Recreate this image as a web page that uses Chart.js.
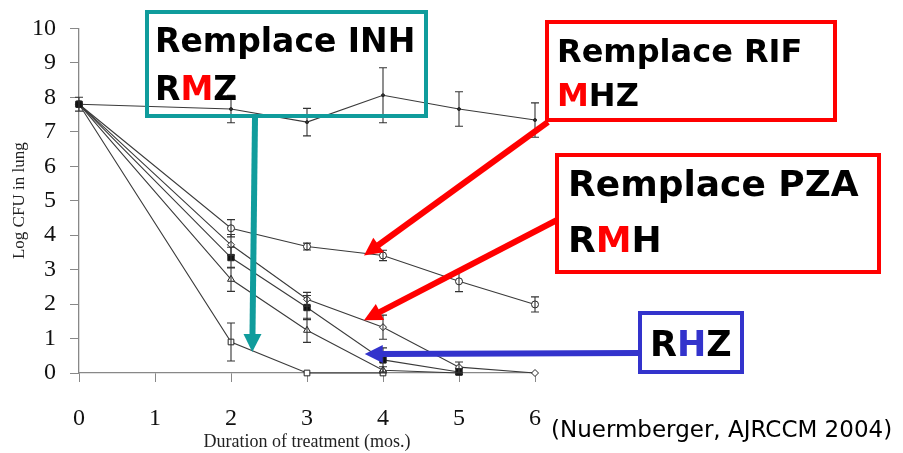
<!DOCTYPE html>
<html>
<head>
<meta charset="utf-8">
<script src="https://cdn.jsdelivr.net/npm/chart.js@4/dist/chart.umd.min.js"></script>
<style>
  body { margin: 0; background: #fff; }
  #wrap { position: relative; width: 903px; height: 453px; overflow: hidden; }
  canvas { position: absolute; left: 0; top: 0; }
  .box { position: absolute; box-sizing: border-box; border: 4px solid; pointer-events: none; }
  .lbl { position: absolute; font-family: 'DejaVu Sans', sans-serif; font-weight: bold;
         line-height: 1; white-space: nowrap; color: #000; }
  .red { color: #ff0000; }
  .blue { color: #3333cc; }
  #cite { position: absolute; left: 551px; top: 418px; font-family: 'DejaVu Sans', sans-serif;
          font-size: 23px; line-height: 1; white-space: nowrap; color: #000; }
</style>
</head>
<body>
<div id="wrap">
  <canvas id="myChart" width="903" height="453"></canvas>

  <div class="box" style="left:145px;top:10px;width:283px;height:108px;border-color:#109c9c;"></div>
  <div class="lbl" style="left:155px;top:24px;font-size:33px;">Remplace INH</div>
  <div class="lbl" style="left:155px;top:72px;font-size:33px;">R<span class="red">M</span>Z</div>

  <div class="box" style="left:545px;top:20px;width:292px;height:102px;border-color:#ff0000;"></div>
  <div class="lbl" style="left:557px;top:35px;font-size:32px;">Remplace RIF</div>
  <div class="lbl" style="left:557px;top:79px;font-size:32px;"><span class="red">M</span>HZ</div>

  <div class="box" style="left:555px;top:153px;width:326px;height:121px;border-color:#ff0000;"></div>
  <div class="lbl" style="left:568px;top:166px;font-size:36px;">Remplace PZA</div>
  <div class="lbl" style="left:568px;top:222px;font-size:36px;">R<span class="red">M</span>H</div>

  <div class="box" style="left:638px;top:311px;width:106px;height:63px;border-color:#3333cc;"></div>
  <div class="lbl" style="left:650px;top:327px;font-size:35px;">R<span class="blue">H</span>Z</div>

  <div id="cite">(Nuermberger, AJRCCM 2004)</div>
</div>

<script>
// months of treatment where CFU were counted
const months = [0, 2, 3, 4, 5, 6];

// log CFU in lung per regimen (null = not measured)
const topLine    = [7.8, 7.66, 7.28, 8.06, 7.66, 7.34];
const topErr     = [0.2, 0.4, 0.4, 0.8, 0.5, 0.5];
const circles    = [7.8, 4.2, 3.67, 3.41, 2.66, 1.99];
const circlesErr = [0, 0.25, 0.1, 0.15, 0.3, 0.22];
const diamonds   = [7.8, 3.72, 2.14, 1.33, 0.17, 0];
const diamondsErr= [0, 0.3, 0.2, 0.35, 0.15, 0];
const filled     = [7.8, 3.35, 1.9, 0.38, 0.03, null];
const filledErr  = [0, 0.3, 0.35, 0.35, 0.1, 0];
const triangles  = [7.8, 2.72, 1.24, 0.08, 0, null];
const trianglesErr = [0, 0.35, 0.35, 0.1, 0, 0];
const squares    = [7.8, 0.9, 0, 0, null, null];
const squaresErr = [0, 0.55, 0, 0, 0, 0];

const xTicks = [0, 1, 2, 3, 4, 5, 6];
const yTicks = [0, 1, 2, 3, 4, 5, 6, 7, 8, 9, 10];

function pts(vals, errs) {
   const out = [];
   for (let i = 0; i < months.length; i++) {
      if (vals[i] === null) continue;
      out.push({ x: months[i], y: vals[i], e: errs[i] });
   }
   return out;
}

const lineCol = '#3a3a3a';

function ds(vals, errs, style, fill, radius) {
   return {
      data: pts(vals, errs),
      borderColor: lineCol,
      borderWidth: 1.1,
      pointStyle: style,
      pointRadius: radius,
      pointBorderColor: '#222',
      pointBorderWidth: 1,
      pointBackgroundColor: fill,
      tension: 0,
      clip: false
   };
}

// error bars drawn through the scales
const errorBars = {
   id: 'errorBars',
   afterDatasetsDraw(chart) {
      const ctx = chart.ctx;
      const ys = chart.scales.y;
      ctx.save();
      ctx.strokeStyle = '#333';
      ctx.lineWidth = 1.1;
      chart.data.datasets.forEach((d, di) => {
         const meta = chart.getDatasetMeta(di);
         d.data.forEach((p, i) => {
            if (!p.e) return;
            const px = meta.data[i].x;
            const y1 = ys.getPixelForValue(p.y + p.e);
            const y2 = ys.getPixelForValue(Math.max(0, p.y - p.e));
            ctx.beginPath();
            ctx.moveTo(px, y1); ctx.lineTo(px, y2);
            ctx.moveTo(px - 4, y1); ctx.lineTo(px + 4, y1);
            ctx.moveTo(px - 4, y2); ctx.lineTo(px + 4, y2);
            ctx.stroke();
         });
      });
      ctx.restore();
   }
};

// arrows from the note boxes to the curves (tail in px, tip in data units)
const arrows = [
   { color: '#109c9c', from: [255, 118], to: [2.28, 0.61] },
   { color: '#ff0000', from: [548, 122], to: [3.75, 3.41] },
   { color: '#ff0000', from: [557, 220], to: [3.75, 1.53] },
   { color: '#3333cc', from: [638, 353], to: [3.76, 0.55] }
];

const arrowPlugin = {
   id: 'arrowPlugin',
   afterDraw(chart) {
      const ctx = chart.ctx;
      const xs = chart.scales.x, ys = chart.scales.y;
      ctx.save();
      arrows.forEach(a => {
         const tx = xs.getPixelForValue(a.to[0]);
         const ty = ys.getPixelForValue(a.to[1]);
         const fx = a.from[0], fy = a.from[1];
         const len = Math.hypot(tx - fx, ty - fy);
         const ux = (tx - fx) / len, uy = (ty - fy) / len;
         const head = 18, half = 9;
         const bx = tx - ux * head, by = ty - uy * head;
         ctx.strokeStyle = a.color;
         ctx.fillStyle = a.color;
         ctx.lineWidth = 6;
         ctx.beginPath();
         ctx.moveTo(fx, fy);
         ctx.lineTo(bx + ux, by + uy);
         ctx.stroke();
         ctx.beginPath();
         ctx.moveTo(tx, ty);
         ctx.lineTo(bx - uy * half, by + ux * half);
         ctx.lineTo(bx + uy * half, by - ux * half);
         ctx.closePath();
         ctx.fill();
      });
      ctx.restore();
   }
};

const ctx = document.getElementById('myChart').getContext('2d');
// first dataset ends up on top, so the filled squares go first
const myChart = new Chart(ctx, {
   type: 'line',
   data: {
      datasets: [
         ds(filled, filledErr, 'rect', '#111', 4.5),
         ds(topLine, topErr, 'circle', '#222', 1.5),
         ds(circles, circlesErr, 'circle', '#fff', 3.5),
         ds(diamonds, diamondsErr, 'rectRot', '#fff', 3.5),
         ds(triangles, trianglesErr, 'triangle', '#fff', 4),
         ds(squares, squaresErr, 'rect', '#fff', 4)
      ]
   },
   options: {
      responsive: false,
      animation: false,
      layout: { padding: { left: 0, top: 27, right: 368, bottom: 0 } },
      plugins: { legend: { display: false }, tooltip: { enabled: false } },
      scales: {
         x: {
            type: 'linear',
            min: 0, max: 6,
            afterBuildTicks: s => { s.ticks = xTicks.map(v => ({ value: v })); },
            afterFit: s => { s.height = 80; },
            grid: { drawOnChartArea: false, tickLength: 9, color: '#888' },
            border: { color: '#888', width: 1.3 },
            ticks: { color: '#111', padding: 22, font: { family: 'Liberation Serif', size: 24 } },
            title: { display: true, text: 'Duration of treatment (mos.)', color: '#222',
                     padding: { top: 0, bottom: 0 }, font: { family: 'Liberation Serif', size: 18 } }
         },
         y: {
            type: 'linear',
            min: 0, max: 10,
            afterBuildTicks: s => { s.ticks = yTicks.map(v => ({ value: v })); },
            afterFit: s => { s.width = 79; },
            grid: { drawOnChartArea: false, tickLength: 9, color: '#888' },
            border: { color: '#888', width: 1.3 },
            ticks: { color: '#111', padding: 14, font: { family: 'Liberation Serif', size: 24 } },
            title: { display: true, text: 'Log CFU in lung', color: '#222',
                     padding: { top: 9, bottom: 0 }, font: { family: 'Liberation Serif', size: 17 } }
         }
      }
   },
   plugins: [errorBars, arrowPlugin]
});
</script>
</body>
</html>
